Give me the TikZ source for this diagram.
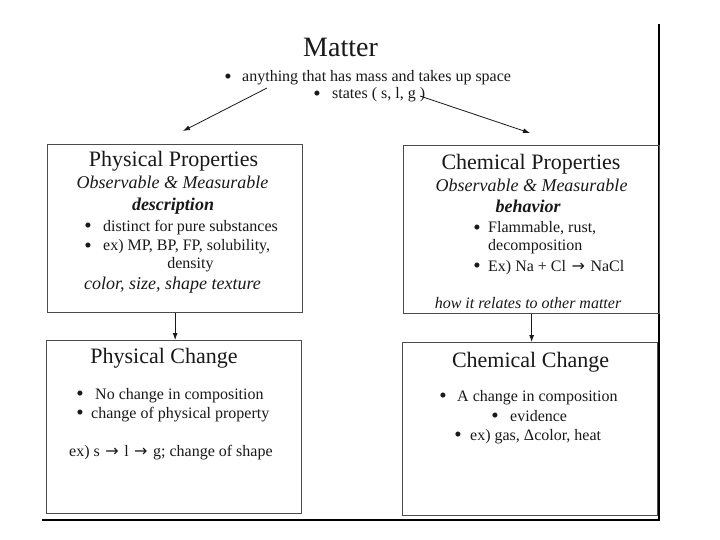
\documentclass[tikz,border=0pt]{standalone}
\usepackage{fontspec}
\setmainfont{Liberation Serif}
\newfontfamily\arrfont{DejaVu Sans}
\newcommand\rarr{\kern1.5pt{\arrfont\fontsize{16}{19}\selectfont →}\kern1.5pt}
\usetikzlibrary{arrows.meta}
\begin{document}
\begin{tikzpicture}[x=1pt,y=-1pt,
  box/.style={draw=black!70, line width=1.3pt, rectangle, inner sep=0pt, anchor=north west},
  txt/.style={inner sep=0pt, anchor=base west, text=black!90},
  ctr/.style={inner sep=0pt, anchor=base, text=black!90},
  bul/.style={inner sep=0pt, anchor=base, text=black!90, font=\fontsize{21}{24}\selectfont, yshift=-1.6pt},
  arr/.style={-{Latex[length=7pt,width=5pt]}, line width=0.8pt, draw=black!90},
  fbody/.style={font=\fontsize{16}{19}\selectfont},
  ftitle/.style={font=\fontsize{22}{26}\selectfont},
  fit18/.style={font=\fontsize{18}{21}\selectfont\itshape},
  fbi18/.style={font=\fontsize{18}{21}\selectfont\bfseries\itshape},
  fit16/.style={font=\fontsize{16}{19}\selectfont\itshape},
  page/.style={draw=black, line width=1.5pt}
]
\useasboundingbox (0,0) rectangle (720,540);
\fill[white] (0,0) rectangle (720,540);

% page edges
\coordinate (bl) at (42,520);
\coordinate (br) at (659,520);
\coordinate (tr) at (659,24);
\draw[page] (bl) -- (br) -- (tr);

% Matter
\node[ctr, font=\fontsize{28}{32}\selectfont] (matter) at (340.5,57) {Matter};
\node[bul] (mb1) at (228,82) {•};
\node[txt, fbody] (m1) at (242,82) {anything that has mass and takes up space};
\node[bul] (mb2) at (317,99) {•};
\node[txt, fbody] (m2) at (332,99) {states ( s, l, g )};

% boxes
\node[box, minimum width=255pt, minimum height=168pt] (pp) at (47,144) {};
\node[box, minimum width=256pt, minimum height=168pt] (cp) at (403,145) {};
\node[box, minimum width=255pt, minimum height=173pt] (pc) at (46,340) {};
\node[box, minimum width=255pt, minimum height=173pt] (cc) at (402,342) {};

% arrows from Matter
\coordinate (la) at (267,88);
\coordinate (lb) at (183,131);
\coordinate (ra) at (420,96);
\coordinate (rb) at (530,133);
\draw[arr] (la) -- (lb);
\draw[arr] (ra) -- (rb);

% arrows between boxes
\draw[arr] (pp.south) -- (pp.south |- pc.north);
\draw[arr] (cp.south) -- (cp.south |- cc.north);

% Physical Properties
\node[ctr, ftitle] (ppt) at (173.5,167) {Physical Properties};
\node[ctr, fit18] (ppo) at (172.5,189) {Observable \& Measurable};
\node[ctr, fbi18] (ppd) at (173,211) {description};
\node[bul] (ppb1) at (88,231) {•};
\node[txt, fbody] (pp1) at (103,231) {distinct for pure substances};
\node[bul] (ppb2) at (88,251) {•};
\node[txt, fbody] (pp2) at (103,251) {ex) MP, BP, FP, solubility,};
\node[ctr, fbody] (pp3) at (190.5,268) {density};
\node[ctr, fit18] (pp4) at (172.5,289) {color, size, shape texture};

% Chemical Properties
\node[ctr, ftitle] (cpt) at (531,170) {Chemical Properties};
\node[ctr, fit18] (cpo) at (531.5,192) {Observable \& Measurable};
\node[ctr, fbi18] (cpd) at (528,213) {behavior};
\node[bul] (cpb1) at (477,233) {•};
\node[txt, fbody] (cp1) at (488,233) {Flammable, rust,};
\node[txt, fbody] (cp2) at (488,251) {decomposition};
\node[bul] (cpb2) at (477,271) {•};
\node[txt, fbody] (cp3) at (488,271) {Ex) Na + Cl \rarr{} NaCl};
\node[ctr, fit16] (cp4) at (528,308) {how it relates to other matter};

% Physical Change
\node[ctr, ftitle] (pct) at (164,363) {Physical Change};
\node[bul] (pcb1) at (80,399) {•};
\node[txt, fbody] (pc1) at (95,399) {No change in composition};
\node[bul] (pcb2) at (80,418) {•};
\node[txt, fbody] (pc2) at (91,418) {change of physical property};
\node[txt, fbody] (pc3) at (69,456) {ex) s \rarr{} l \rarr{} g; change of shape};

% Chemical Change
\node[ctr, ftitle] (cct) at (530.5,367) {Chemical Change};
\node[bul] (ccb1) at (443,401) {•};
\node[txt, fbody] (cc1) at (457,401) {A change in composition};
\node[bul] (ccb2) at (495,421) {•};
\node[txt, fbody] (cc2) at (510,421) {evidence};
\node[bul] (ccb3) at (458,440) {•};
\node[txt, fbody] (cc3) at (470,440) {ex) gas, Δcolor, heat};
\end{tikzpicture}
\end{document}
